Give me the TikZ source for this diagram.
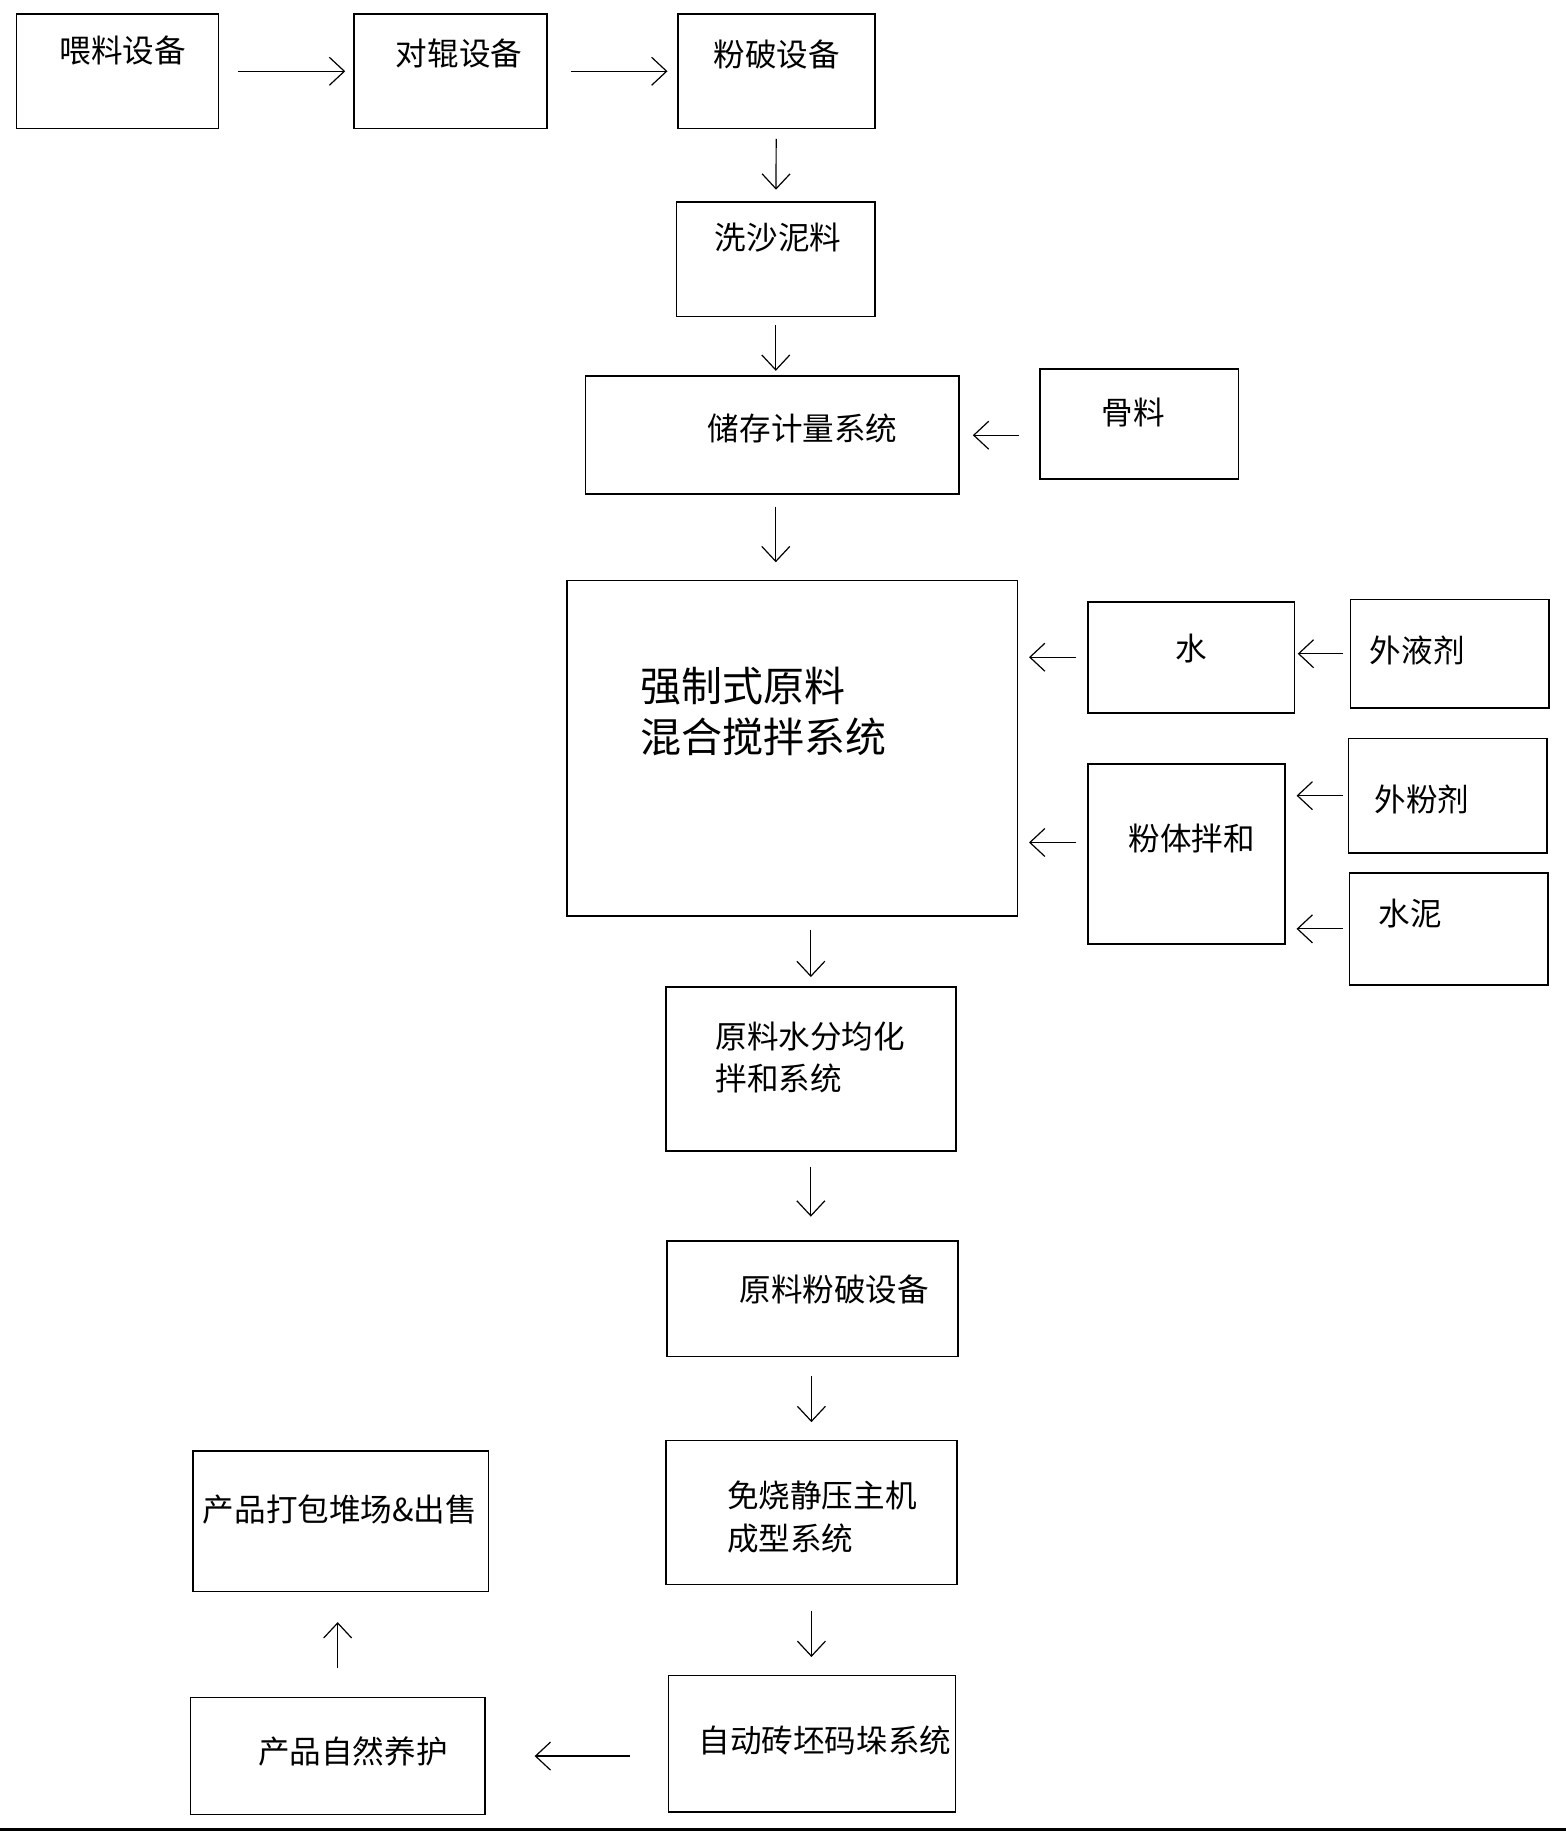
\documentclass[tikz,border=0pt]{standalone}
\usepackage{fontspec}
\newfontfamily\cjk{Noto Sans CJK SC}
\usetikzlibrary{arrows.meta}
\tikzset{box/.style={draw, line width=0.8pt, inner sep=0pt},
  flow/.style={-{Straight Barb[length=7.5pt,width=14pt]}, line width=0.6pt},
  txt/.style={font=\cjk\fontsize{15.8pt}{21pt}\selectfont, inner sep=0pt}}

\begin{document}
\begin{tikzpicture}[x=0.5843pt, y=-0.5843pt]
\useasboundingbox (0,0) rectangle (1340,1568);
% top row
\node [box, minimum width=101.1pt, minimum height=57.3pt] (feed) at (100.5,61) {};
\node [box, minimum width=96.4pt, minimum height=57.3pt] (roll) at (385.5,61) {};
\node [box, minimum width=98.7pt, minimum height=57.3pt] (crush) at (664.5,61) {};
\node [txt] (feed-t) at (105,43) {喂料设备};
\node [txt] (roll-t) at (393,46) {对辊设备};
\node [txt] (crush-t) at (665,47) {粉破设备};
% sand and storage
\node [box, minimum width=99.3pt, minimum height=57.3pt] (wash) at (664,222) {};
\node [box, minimum width=187pt, minimum height=59pt] (store) at (661,372.5) {};
\node [box, minimum width=99.3pt, minimum height=54.9pt] (agg) at (975,363) {};
\node [txt] (wash-t) at (666,203) {洗沙泥料};
\node [txt] (store-t) at (687,367) {储存计量系统};
\node [txt] (agg-t) at (970,353) {骨料};
% mixing
\node [box, minimum width=225.5pt, minimum height=167.7pt] (mix) at (678,640.5) {};
\node [box, minimum width=103.4pt, minimum height=55.5pt] (water) at (1019.5,562.5) {};
\node [box, minimum width=99.3pt, minimum height=54.3pt] (liquid) at (1241,559.5) {};
\node [box, minimum width=98.7pt, minimum height=90pt] (powder) at (1015.5,731) {};
\node [box, minimum width=99.3pt, minimum height=57.3pt] (addp) at (1239,681) {};
\node [box, minimum width=99.3pt, minimum height=56.1pt] (cement) at (1240,795) {};
\node [txt, font=\cjk\fontsize{20.5pt}{25.7pt}\selectfont, align=left, anchor=west] (mix-t) at (548,609) {强制式原料\\混合搅拌系统};
\node [txt] (water-t) at (1020,555) {水};
\node [txt] (liquid-t) at (1213,557) {外液剂};
\node [txt] (powder-t) at (1020,718) {粉体拌和};
\node [txt] (addp-t) at (1217,684) {外粉剂};
\node [txt] (cement-t) at (1207,782) {水泥};
% lower chain
\node [box, minimum width=144.9pt, minimum height=81.8pt] (moist) at (694,915) {};
\node [box, minimum width=145.5pt, minimum height=57.8pt] (mill) at (695.5,1111.5) {};
\node [box, minimum width=145.5pt, minimum height=71.9pt] (press) at (694.5,1294.5) {};
\node [box, minimum width=143.7pt, minimum height=68.4pt] (stack) at (695,1492.5) {};
\node [box, minimum width=147.2pt, minimum height=58.4pt] (cure) at (289,1503) {};
\node [box, minimum width=147.8pt, minimum height=70.1pt] (pack) at (291.5,1302) {};
\node [txt, align=left, anchor=west] (moist-t) at (612,905) {原料水分均化\\拌和系统};
\node [txt] (mill-t) at (714,1104) {原料粉破设备};
\node [txt, font=\cjk\fontsize{15.8pt}{21.6pt}\selectfont, align=left, anchor=west] (press-t) at (622,1298.5) {免烧静压主机\\成型系统};
\node [txt] (stack-t) at (706,1490) {自动砖坯码垛系统};
\node [txt] (cure-t) at (302,1499) {产品自然养护};
\node [txt] (pack-t) at (291,1292) {产品打包堆场\&出售};
% arrows
\draw [flow, shorten <=9.3pt, shorten >=4pt] (feed) -- (roll);
\draw [flow, shorten <=11.7pt, shorten >=4.7pt] (roll) -- (crush);
\draw [flow, shorten <=4.7pt, shorten >=5.8pt] (crush) -- (wash);
\draw [flow, shorten <=4pt, shorten >=2.3pt] (wash.south) -- (wash.south |- store.north);
\draw [flow, shorten <=10pt, shorten >=6.4pt] (agg.west |- store.east) -- (store.east);
\draw [flow, shorten <=5.8pt, shorten >=8.8pt] (store.south -| wash) -- (mix.north -| wash);
\draw [flow, shorten <=3.5pt, shorten >=1.2pt] (liquid.west) -- (liquid.west -| water.east);
\draw [flow, shorten <=5.3pt, shorten >=5.3pt] (water.west) -- (water.west -| mix.east);
\coordinate (powder-in) at ([yshift=5.8pt]powder.west);
\draw [flow, shorten <=5.3pt, shorten >=5.3pt] (powder-in) -- (powder-in -| mix.east);
\draw [flow, shorten <=2.3pt, shorten >=5.3pt] (addp.west) -- (addp.west -| powder.east);
\draw [flow, shorten <=2.9pt, shorten >=5.3pt] (cement.west) -- (cement.west -| powder.east);
\draw [flow, shorten <=6.4pt, shorten >=4.7pt] (mix.south -| moist.north) -- (moist.north);
\draw [flow, shorten <=7.6pt, shorten >=11.7pt] (moist.south) -- (moist.south |- mill.north);
\draw [flow, shorten <=9.3pt, shorten >=8.8pt] (press.north |- mill.south) -- (press.north);
\draw [flow, shorten <=12.9pt, shorten >=8.8pt] (press.south) -- (press.south |- stack.north);
\draw [flow, shorten <=18.7pt, shorten >=24.5pt] (stack.west |- cure.east) -- (cure.east);
\draw [flow, shorten <=14.6pt, shorten >=15pt] (cure.north) -- (cure.north |- pack.south);
% rule at the foot
\draw [line width=1.5pt] (0,1566) -- (1340,1566);
\end{tikzpicture}
\end{document}
